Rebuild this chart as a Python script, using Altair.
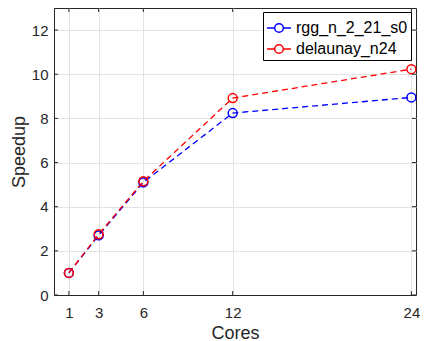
import altair as alt
import pandas as pd

cores = [1, 3, 6, 12, 24]
rgg = [1.0, 2.70, 5.10, 8.24, 8.95]
delaunay = [1.0, 2.75, 5.15, 8.92, 10.23]
series_names = ["rgg_n_2_21_s0", "delaunay_n24"]
series_colors = ["#0000ff", "#ff0000"]
x_ticks = [1, 3, 6, 12, 24]
y_ticks = [0, 2, 4, 6, 8, 10, 12]

rows = []
for c, v in zip(cores, rgg):
    rows.append({"Cores": c, "Speedup": v, "series": series_names[0], "ord": 0})
for c, v in zip(cores, delaunay):
    rows.append({"Cores": c, "Speedup": v, "series": series_names[1], "ord": 1})
df = pd.DataFrame(rows)

W, H = 362, 287
xscale = alt.Scale(domain=[0, 24.31], nice=False, zero=False)
yscale = alt.Scale(domain=[0, 13], nice=False)
cscale = alt.Scale(domain=series_names, range=series_colors)

font = "Liberation Sans"
legend_path = "M-1,0H-0.36 M0.36,0H1 M0.36,0A0.36,0.36,0,1,1,-0.36,0A0.36,0.36,0,1,1,0.36,0"

base = alt.Chart(df)

lines = base.mark_line(strokeDash=[6, 4], strokeWidth=1.3).encode(
    x=alt.X("Cores:Q", scale=xscale,
            axis=alt.Axis(values=x_ticks, title="Cores", grid=True)),
    y=alt.Y("Speedup:Q", scale=yscale,
            axis=alt.Axis(values=y_ticks, title="Speedup", grid=True)),
    color=alt.Color("series:N", scale=cscale, sort=series_names,
                    legend=alt.Legend(
                        title=None, orient="none", legendX=209, legendY=4,
                        symbolType=legend_path, symbolSize=576,
                        symbolStrokeWidth=1.5, symbolFillColor="transparent",
                        labelFontSize=16, labelFont=font, labelColor="#000000",
                        labelOffset=4, rowPadding=-1,
                        strokeColor="#000000", fillColor="#ffffff",
                        padding=3, symbolOpacity=1)),
    detail="series:N",
    order="ord:Q",
)

points = base.mark_point(shape="circle", filled=False, size=80,
                         strokeWidth=1.5, opacity=1).encode(
    x=alt.X("Cores:Q", scale=xscale),
    y=alt.Y("Speedup:Q", scale=yscale),
    color=alt.Color("series:N", scale=cscale, legend=None),
    order="ord:Q",
)

xt = pd.DataFrame({"v": x_ticks})
yt = pd.DataFrame({"v": y_ticks})
tick_color = "#262626"
xt_bottom = alt.Chart(xt).mark_rule(color=tick_color, strokeWidth=1).encode(
    x=alt.X("v:Q", scale=xscale), y=alt.value(H), y2=alt.value(H - 4))
xt_top = alt.Chart(xt).mark_rule(color=tick_color, strokeWidth=1).encode(
    x=alt.X("v:Q", scale=xscale), y=alt.value(0), y2=alt.value(4))
yt_left = alt.Chart(yt).mark_rule(color=tick_color, strokeWidth=1).encode(
    y=alt.Y("v:Q", scale=yscale), x=alt.value(0), x2=alt.value(4))
yt_right = alt.Chart(yt).mark_rule(color=tick_color, strokeWidth=1).encode(
    y=alt.Y("v:Q", scale=yscale), x=alt.value(W), x2=alt.value(W - 4))

chart = alt.layer(lines, points, xt_bottom, xt_top, yt_left, yt_right).properties(
    width=W, height=H,
    autosize=alt.AutoSizeParams(type="none"),
    padding={"left": 46, "top": 0, "right": 4, "bottom": 46},
).configure_view(
    stroke="#262626", strokeWidth=1
).configure_axis(
    labelFont=font, titleFont=font, labelFontSize=15, titleFontSize=18,
    labelColor="#262626", titleColor="#262626", titleFontWeight="normal",
    domainColor="#262626", domainWidth=1, tickSize=0,
    gridColor="#e3e3e3", gridWidth=1, labelPadding=6,
).configure_axisX(
    labelPadding=10, titlePadding=4
).configure_axisY(
    titlePadding=3
)

chart.save("out.html", embed_options={"renderer": "svg", "actions": False})
